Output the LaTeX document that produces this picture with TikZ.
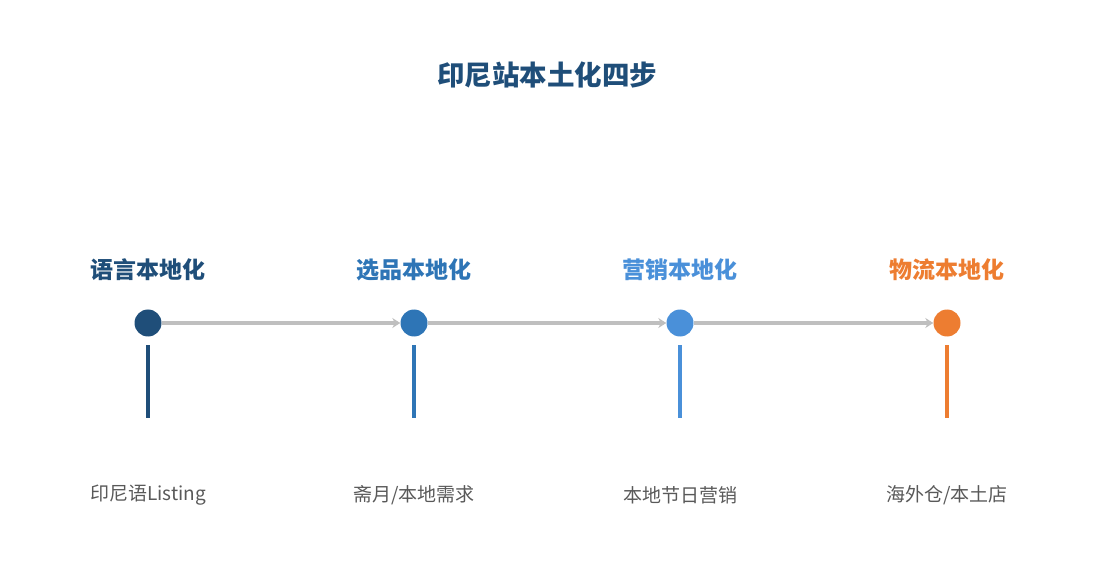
\documentclass[tikz,border=0pt]{standalone}
\usepackage{fontspec}
\setmainfont{Noto Sans CJK SC}
\usetikzlibrary{arrows.meta}
\definecolor{stepA}{HTML}{1F4E79}
\definecolor{stepB}{HTML}{2E75B6}
\definecolor{stepC}{HTML}{4A90D9}
\definecolor{stepD}{HTML}{ED7D31}
\definecolor{flow}{HTML}{BFBFBF}
\definecolor{note}{HTML}{595959}
\begin{document}
\begin{tikzpicture}[x=1pt,y=-1pt,
  dot/.style={circle,fill=#1,minimum size=27pt,inner sep=0pt},
  head/.style={text=#1,font=\fontsize{23}{27}\selectfont\bfseries},
  stem/.style={draw=#1,line width=4pt},
  note/.style={text=note,font=\fontsize{19}{23}\selectfont},
  flow/.style={draw=flow,line width=3.5pt,-{Stealth[length=8pt,width=10pt]}}]
\useasboundingbox (0,0) rectangle (1095,585);
\node[text=stepA,font=\fontsize{27.5}{32}\selectfont\bfseries] (title) at (547,75) {印尼站本土化四步};
% steps
\def\step#1#2#3#4#5{
  \node[dot=#3] (d#1) at (#2,323) {};
  \node[head=#3] (h#1) at (#2,270) {#4};
  \coordinate (s#1) at (#2,345);
  \coordinate (e#1) at (#2,418);
  \draw[stem=#3] (s#1) -- (e#1);
  \node[note] (n#1) at (#2,495) {#5};
}
\step{1}{148}{stepA}{语言本地化}{印尼语Listing}
\step{2}{414}{stepB}{选品本地化}{斋月/本地需求}
\step{3}{680}{stepC}{营销本地化}{本地节日营销}
\step{4}{947}{stepD}{物流本地化}{海外仓/本土店}
\foreach \a/\b in {1/2,2/3,3/4}
  \draw[flow] (d\a) -- (d\b);
\end{tikzpicture}
\end{document}
